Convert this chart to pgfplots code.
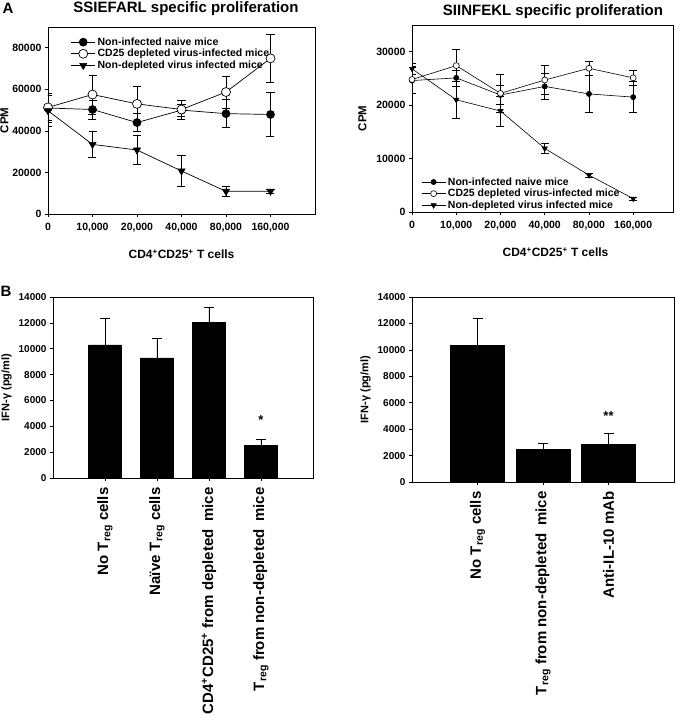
\documentclass[border=0pt]{standalone}
\usepackage{fontspec}
\setmainfont{Liberation Sans}
\usepackage{pgfplots}
\pgfplotsset{compat=1.18}

\pgfplotsset{
  panel/.style={
    scale only axis, anchor=south west,
    axis line style={line width=0.8pt},
    tick pos=left, tick align=outside,
    major tick length=3pt,
    tick style={black, line width=0.6pt},
    /pgf/number format/assume math mode=true,
    /pgf/number format/1000 sep={},
    scaled y ticks=false,
    ticklabel style={font=\fontsize{10.5}{12}\selectfont\bfseries},
    xticklabel style={yshift=-3pt},
    label style={font=\fontsize{11.5}{13}\selectfont\bfseries},
    xlabel style={font=\fontsize{12}{14}\selectfont\bfseries, yshift=-10pt},
  },
  errs/.style={error bars/.cd, y dir=both, y explicit,
    error bar style={line width=0.6pt, black},
    error mark options={rotate=90, mark size=#1, line width=0.6pt, black}},
  lineleg/.style={
    legend style={draw=none, fill=none, inner sep=0pt, row sep=-1.5pt,
      font=\fontsize{10.5}{12}\selectfont\bfseries,
      cells={anchor=west}},
    legend image code/.code={\draw[mark repeat=2, mark phase=2, ##1]
      plot coordinates {(0pt,0pt) (12pt,0pt) (24pt,0pt)};},
  },
  barpanel/.style={
    ticklabel style={font=\fontsize{10}{12}\selectfont\bfseries},
    xticklabel style={rotate=90, anchor=east, yshift=0pt,
      font=\fontsize{15}{17}\selectfont\bfseries},
    ylabel style={font=\fontsize{11}{13}\selectfont\bfseries},
    ymin=0, ymax=14000,
    ytick={0,2000,4000,6000,8000,10000,12000,14000},
    ylabel={IFN-γ (pg/ml)},
    ybar,
  },
}

\begin{document}
\begin{tikzpicture}[font=\bfseries]
\path[use as bounding box] (0,0) rectangle (675pt,719pt);

% ---- A, left: SSIEFARL ----
\begin{axis}[panel, lineleg,
  at={(48pt,505pt)}, width=267pt, height=187pt,
  xmin=0, xmax=6, ymin=0, ymax=90000,
  xtick={0,1,2,3,4,5},
  xticklabels={0,{10,000},{20,000},{40,000},{80,000},{160,000}},
  ytick={0,20000,40000,60000,80000},
  xlabel={CD4\textsuperscript{+}CD25\textsuperscript{+} T cells},
  ylabel={CPM}, ylabel style={yshift=-3pt},
  legend style={at={(0.085,0.955)}, anchor=north west},
]
\addplot[black, line width=0.7pt, mark=*, mark size=4pt, errs=4pt] coordinates {
  (0,51000) +- (0,6000)
  (1,50300) +- (0,4500)
  (2,44000) +- (0,4300)
  (3,50000) +- (0,3000)
  (4,48300) +- (0,6800)
  (5,47900) +- (0,10500)
};
\addlegendentry{Non-infected naive mice}
\addplot[black, line width=0.7pt, mark=*, mark size=4.5pt,
  mark options={fill=white, draw=black}, errs=4pt] coordinates {
  (0,51300) +- (0,7000)
  (1,57500) +- (0,9300)
  (2,53000) +- (0,8400)
  (3,50300) +- (0,4500)
  (4,58700) +- (0,7700)
  (5,74900) +- (0,11500)
};
\addlegendentry{CD25 depleted virus-infected mice}
\addplot[black, line width=0.7pt, mark=triangle*, mark size=4pt,
  mark options={rotate=180}, errs=4pt] coordinates {
  (0,49700) +- (0,7500)
  (1,33500) +- (0,6200)
  (2,30800) +- (0,7000)
  (3,20700) +- (0,7500)
  (4,10900) +- (0,2500)
  (5,11000) +- (0,1000)
};
\addlegendentry{Non-depleted virus infected mice}
\end{axis}

% ---- A, right: SIINFEKL ----
\begin{axis}[panel, lineleg,
  at={(412pt,507pt)}, width=261pt, height=187pt,
  xmin=0, xmax=5.9, ymin=0, ymax=35000,
  xtick={0,1,2,3,4,5},
  xticklabels={0,{10,000},{20,000},{40,000},{80,000},{160,000}},
  ytick={0,10000,20000,30000},
  xlabel={CD4\textsuperscript{+}CD25\textsuperscript{+} T cells},
  xlabel style={xshift=13pt},
  ylabel={CPM}, ylabel style={yshift=3pt},
  legend style={at={(0.035,0.0)}, anchor=south west},
]
\addplot[black, line width=0.6pt, mark=*, mark size=2.6pt, errs=4pt] coordinates {
  (0,24600) +- (0,2400)
  (1,25100) +- (0,1500)
  (2,21900) +- (0,1800)
  (3,23500) +- (0,2500)
  (4,22100) +- (0,3500)
  (5,21500) +- (0,2900)
};
\addlegendentry{Non-infected naive mice}
\addplot[black, line width=0.6pt, mark=*, mark size=3pt,
  mark options={fill=white, draw=black}, errs=4pt] coordinates {
  (0,24800) +- (0,2500)
  (1,27400) +- (0,3000)
  (2,22200) +- (0,3500)
  (3,24700) +- (0,2700)
  (4,26900) +- (0,1300)
  (5,25100) +- (0,1400)
};
\addlegendentry{CD25 depleted virus-infected mice}
\addplot[black, line width=0.6pt, mark=triangle*, mark size=3pt,
  mark options={rotate=180}, errs=4pt] coordinates {
  (0,26800) +- (0,1000)
  (1,21000) +- (0,3500)
  (2,18900) +- (0,2800)
  (3,11900) +- (0,1000)
  (4,6900) +- (0,400)
  (5,2500) +- (0,300)
};
\addlegendentry{Non-depleted virus infected mice}
\end{axis}

% ---- B, left ----
\begin{axis}[panel, barpanel,
  at={(53pt,241pt)}, width=260pt, height=181pt,
  xmin=0, xmax=5,
  xtick={1,2,3,4},
  xticklabels={{No T\textsubscript{reg} cells},{Naïve T\textsubscript{reg} cells},
    {CD4\textsuperscript{+}CD25\textsuperscript{+} from depleted\hspace{0.5em}mice},
    {T\textsubscript{reg} from non-depleted\hspace{0.5em}mice}},
  bar width=32.7pt,
]
\addplot[fill=black, draw=black,
  error bars/.cd, y dir=plus, y explicit,
  error bar style={line width=0.6pt, black},
  error mark options={rotate=90, mark size=5pt, line width=0.6pt, black}]
  coordinates {
  (1,10300) +- (0,2070)
  (2,9300) +- (0,1470)
  (3,12040) +- (0,1180)
  (4,2530) +- (0,460)
};
\node[font=\fontsize{13}{13}\selectfont\bfseries] at (axis cs:4,4500) {*};
\end{axis}

% ---- B, right ----
\begin{axis}[panel, barpanel,
  at={(412pt,237pt)}, width=262pt, height=185pt,
  xmin=0, xmax=4,
  xtick={1,2,3},
  xticklabels={{No T\textsubscript{reg} cells},
    {T\textsubscript{reg} from non-depleted\hspace{0.5em}mice},
    {Anti-IL-10 mAb}},
  bar width=54pt,
]
\addplot[fill=black, draw=black,
  error bars/.cd, y dir=plus, y explicit,
  error bar style={line width=0.6pt, black},
  error mark options={rotate=90, mark size=5pt, line width=0.6pt, black}]
  coordinates {
  (1,10330) +- (0,2020)
  (2,2470) +- (0,480)
  (3,2830) +- (0,880)
};
\node[font=\fontsize{13}{13}\selectfont\bfseries] at (axis cs:3,5000) {**};
\end{axis}

% titles and panel letters
\node[font=\fontsize{15}{17}\selectfont\bfseries] at (186pt,710pt) {SSIEFARL specific proliferation};
\node[font=\fontsize{15}{17}\selectfont\bfseries] at (553pt,707pt) {SIINFEKL specific proliferation};
\node[font=\fontsize{15}{17}\selectfont\bfseries] at (8pt,711pt) {A};
\node[font=\fontsize{15}{17}\selectfont\bfseries] at (6pt,428pt) {B};
\end{tikzpicture}
\end{document}
